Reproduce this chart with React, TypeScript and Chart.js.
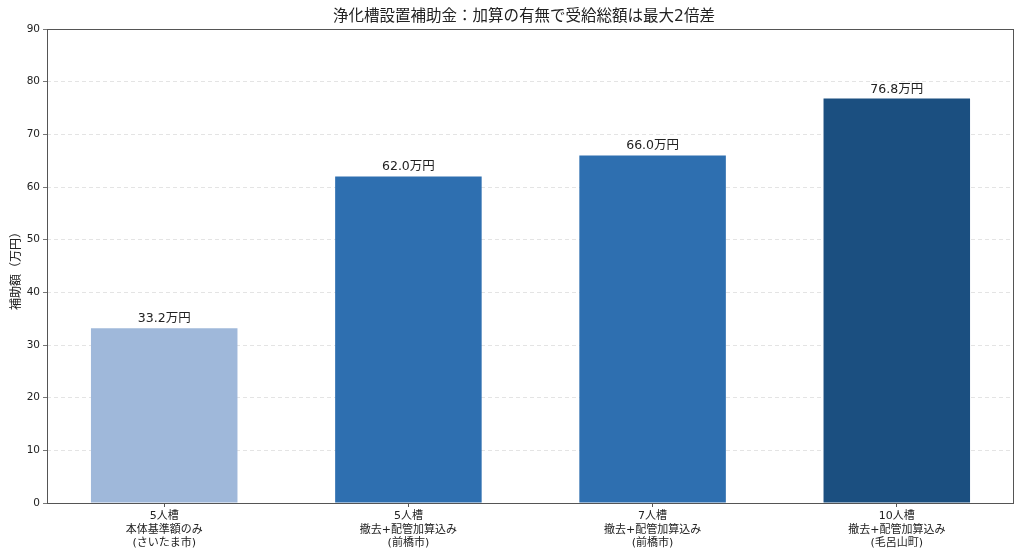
import React, { useEffect, useRef } from "react";
import { Chart, registerables } from "chart.js";

Chart.register(...registerables);

const categories: string[][] = [
  ["5人槽", "本体基準額のみ", "(さいたま市)"],
  ["5人槽", "撤去+配管加算込み", "(前橋市)"],
  ["7人槽", "撤去+配管加算込み", "(前橋市)"],
  ["10人槽", "撤去+配管加算込み", "(毛呂山町)"],
];
const values: number[] = [33.2, 62.0, 66.0, 76.8];
const barColors: string[] = ["#9fb8da", "#2e6fb0", "#2e6fb0", "#1b4f80"];
const yTicks: number[] = [0, 10, 20, 30, 40, 50, 60, 70, 80, 90];
const titleText = "浄化槽設置補助金：加算の有無で受給総額は最大2倍差";
const yTitle = "補助額（万円）";
const unit = "万円";

const FONT = "'DejaVu Sans', 'Noto Sans CJK JP', sans-serif";
const CJK = "'Noto Sans CJK JP', sans-serif";

const decorPlugin = {
  id: "decor",
  afterDatasetsDraw(chart: any) {
    const { ctx } = chart;
    const meta = chart.getDatasetMeta(0);
    ctx.save();
    ctx.fillStyle = "#222";
    ctx.font = `12.5px ${FONT}`;
    ctx.textAlign = "center";
    ctx.textBaseline = "bottom";
    meta.data.forEach((bar: any, i: number) => {
      ctx.fillText(values[i].toFixed(1) + unit, bar.x, bar.y - 3);
    });
    ctx.restore();
  },
  afterDraw(chart: any) {
    const { ctx, chartArea } = chart;
    ctx.save();
    ctx.strokeStyle = "#555";
    ctx.lineWidth = 1;
    ctx.strokeRect(
      Math.round(chartArea.left) + 0.5,
      Math.round(chartArea.top) + 0.5,
      Math.round(chartArea.right - chartArea.left) - 1,
      Math.round(chartArea.bottom - chartArea.top)
    );
    ctx.fillStyle = "#222";
    ctx.font = `15.5px ${FONT}`;
    ctx.textAlign = "center";
    ctx.textBaseline = "middle";
    ctx.fillText(titleText, 524, 17);
    ctx.font = `12px ${CJK}`;
    ctx.translate(15, (chartArea.top + chartArea.bottom) / 2 + 2);
    ctx.rotate(-Math.PI / 2);
    ctx.fillText(yTitle, 0, 0);
    ctx.restore();
  },
};

export default function App() {
  const ref = useRef<HTMLCanvasElement | null>(null);
  useEffect(() => {
    if (!ref.current) return;
    const chart = new Chart(ref.current, {
      type: "bar",
      data: {
        datasets: [
          {
            data: values.map((v, i) => ({ x: i, y: v })),
            backgroundColor: barColors,
            borderWidth: 0,
            categoryPercentage: 1,
            barPercentage: 0.6,
          },
        ],
      },
      options: {
        animation: false,
        responsive: false,
        maintainAspectRatio: false,
        layout: { padding: { top: 29, right: 10, left: 0, bottom: 0 } },
        plugins: {
          legend: { display: false },
          tooltip: { enabled: false },
          title: { display: false },
        },
        scales: {
          x: {
            type: "linear",
            min: -0.48,
            max: categories.length - 1 + 0.48,
            offset: false,
            afterBuildTicks(scale: any) {
              scale.ticks = categories.map((_, i) => ({ value: i }));
            },
            grid: {
              offset: false,
              drawOnChartArea: false,
              drawTicks: true,
              tickLength: 4,
              tickColor: "#555",
            },
            border: { display: false },
            ticks: {
              color: "#222",
              font: { family: FONT, size: 11, lineHeight: 1.2 },
              padding: 3,
              maxRotation: 0,
              autoSkip: false,
              callback: (v: any) => categories[Math.round(Number(v))],
            },
            afterFit(scale: any) {
              scale.height = 559 - 503;
            },
          },
          y: {
            min: 0,
            max: 90,
            afterBuildTicks(scale: any) {
              scale.ticks = yTicks.map((v) => ({ value: v }));
            },
            grid: {
              color: (c: any) =>
                c.tick && (c.tick.value === 0 || c.tick.value === 90)
                  ? "rgba(0,0,0,0)"
                  : "#dddddd",
              tickColor: "#555",
              tickLength: 4,
              tickBorderDash: [],
              lineWidth: 0.8,
            },
            border: { display: false, dash: [4, 3] },
            ticks: {
              color: "#222",
              font: { family: FONT, size: 10.5 },
              padding: 3,
            },
            afterFit(scale: any) {
              scale.width = 47;
            },
          },
        },
      },
      plugins: [decorPlugin],
    } as any);
    return () => chart.destroy();
  }, []);
  return (
    <div
      style={{
        position: "fixed",
        left: 0,
        top: 0,
        width: 1024,
        height: 559,
        background: "#fff",
      }}
    >
      <canvas ref={ref} width={1024} height={559} style={{ width: 1024, height: 559 }} />
    </div>
  );
}
